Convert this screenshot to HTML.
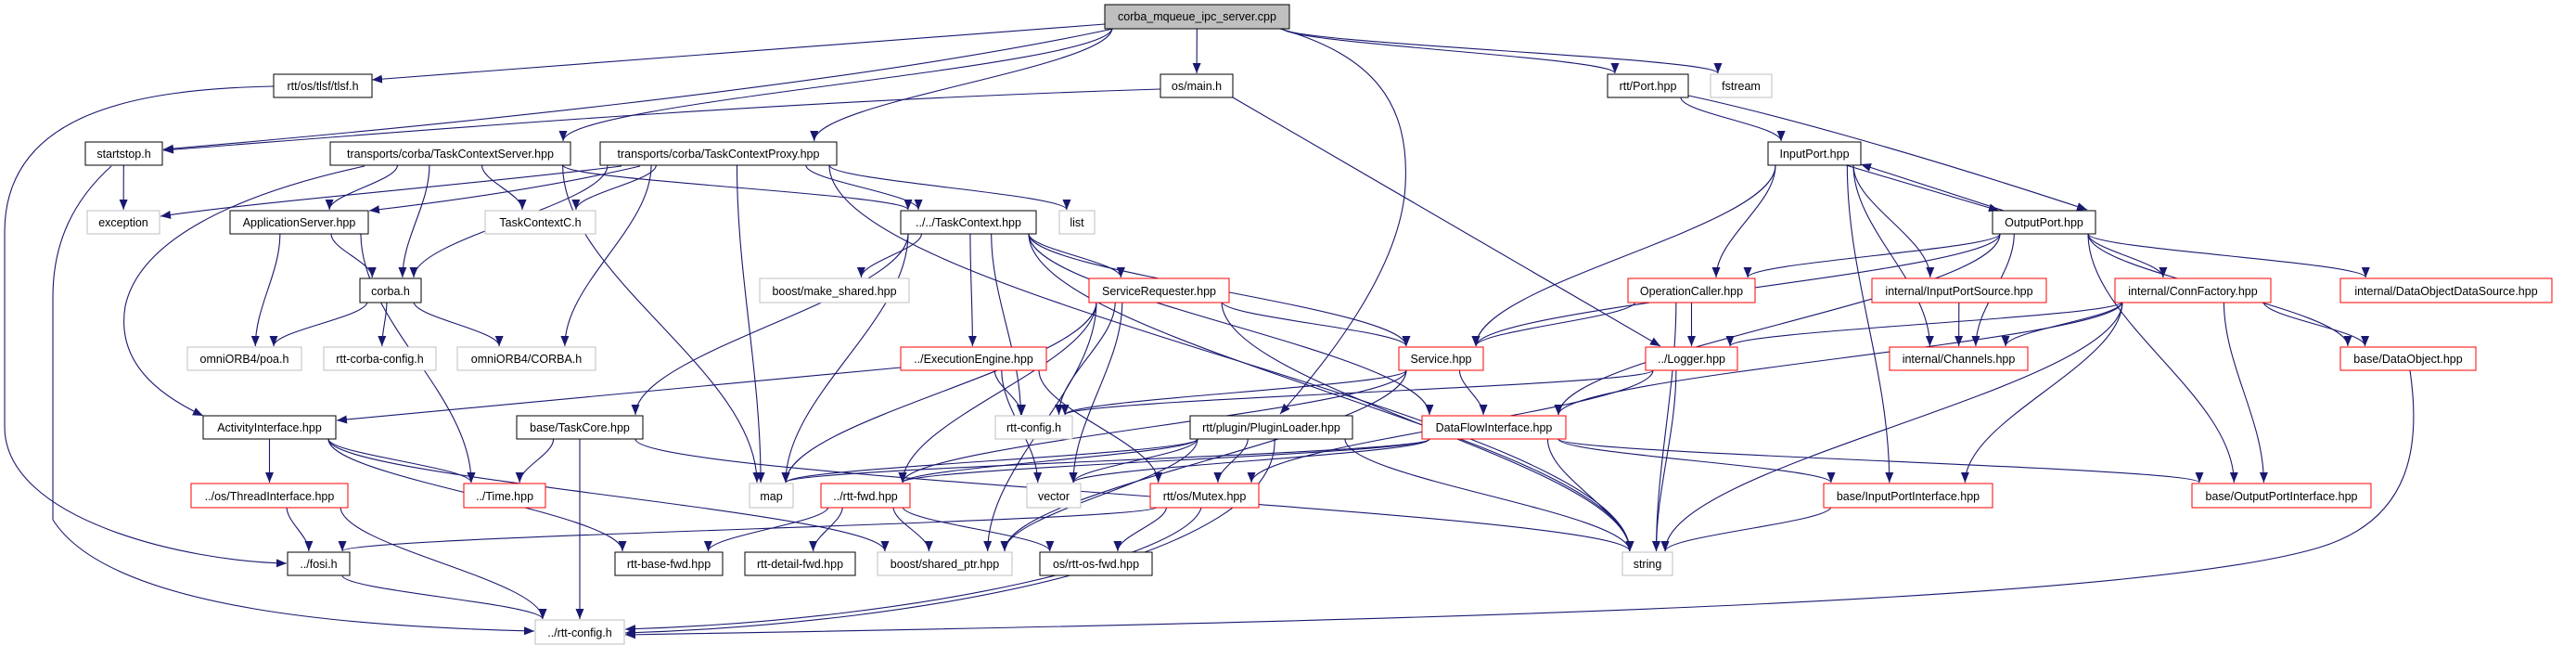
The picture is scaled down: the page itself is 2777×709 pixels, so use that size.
<!DOCTYPE html>
<html><head><meta charset="utf-8"><style>
html,body{margin:0;padding:0;background:#fff;}
svg{display:block;}
text{font-family:"Liberation Sans",Arial,sans-serif;font-size:12.5px;fill:#000;}
</style></head><body>
<svg id="g" width="2777" height="709" viewBox="0 0 2777 709" xmlns="http://www.w3.org/2000/svg">
<defs><marker id="a" markerUnits="userSpaceOnUse" markerWidth="12" markerHeight="10" refX="11" refY="4.5" orient="auto"><path d="M0,0 L11,4.5 L0,9 z" fill="#191970"/></marker></defs>
<g id="edges" fill="none" stroke="#191970" stroke-width="1.1"></g>
<g id="nodes">
<rect x="1191" y="5" width="199" height="26" fill="#bfbfbf" stroke="#000"/><text x="1290.5" y="22" text-anchor="middle">corba_mqueue_ipc_server.cpp</text>
<rect x="295" y="80" width="106" height="25" fill="#fff" stroke="#000"/><text x="348" y="97" text-anchor="middle">rtt/os/tlsf/tlsf.h</text>
<rect x="1251" y="80" width="78" height="25" fill="#fff" stroke="#000"/><text x="1290" y="97" text-anchor="middle">os/main.h</text>
<rect x="1733" y="80" width="87" height="25" fill="#fff" stroke="#000"/><text x="1776.5" y="97" text-anchor="middle">rtt/Port.hpp</text>
<rect x="1844" y="80" width="66" height="25" fill="#fff" stroke="#bfbfbf"/><text x="1877" y="97" text-anchor="middle">fstream</text>
<rect x="92" y="153" width="83" height="25" fill="#fff" stroke="#000"/><text x="133.5" y="170" text-anchor="middle">startstop.h</text>
<rect x="356" y="153" width="259" height="25" fill="#fff" stroke="#000"/><text x="485.5" y="170" text-anchor="middle">transports/corba/TaskContextServer.hpp</text>
<rect x="647" y="153" width="255" height="25" fill="#fff" stroke="#000"/><text x="774.5" y="170" text-anchor="middle">transports/corba/TaskContextProxy.hpp</text>
<rect x="1906" y="153" width="100" height="25" fill="#fff" stroke="#000"/><text x="1956" y="170" text-anchor="middle">InputPort.hpp</text>
<rect x="94" y="227" width="78" height="25" fill="#fff" stroke="#bfbfbf"/><text x="133" y="244" text-anchor="middle">exception</text>
<rect x="248" y="227" width="149" height="25" fill="#fff" stroke="#000"/><text x="322.5" y="244" text-anchor="middle">ApplicationServer.hpp</text>
<rect x="523" y="227" width="119" height="25" fill="#fff" stroke="#bfbfbf"/><text x="582.5" y="244" text-anchor="middle">TaskContextC.h</text>
<rect x="971" y="227" width="146" height="25" fill="#fff" stroke="#000"/><text x="1044" y="244" text-anchor="middle">../../TaskContext.hpp</text>
<rect x="1142" y="227" width="38" height="25" fill="#fff" stroke="#bfbfbf"/><text x="1161" y="244" text-anchor="middle">list</text>
<rect x="2148" y="227" width="111" height="25" fill="#fff" stroke="#000"/><text x="2203.5" y="244" text-anchor="middle">OutputPort.hpp</text>
<rect x="388" y="300" width="66" height="26" fill="#fff" stroke="#000"/><text x="421" y="318" text-anchor="middle">corba.h</text>
<rect x="819" y="300" width="161" height="26" fill="#fff" stroke="#bfbfbf"/><text x="899.5" y="318" text-anchor="middle">boost/make_shared.hpp</text>
<rect x="1174" y="300" width="151" height="26" fill="#fff" stroke="#f00"/><text x="1249.5" y="318" text-anchor="middle">ServiceRequester.hpp</text>
<rect x="1755" y="300" width="137" height="26" fill="#fff" stroke="#f00"/><text x="1823.5" y="318" text-anchor="middle">OperationCaller.hpp</text>
<rect x="2018" y="300" width="188" height="26" fill="#fff" stroke="#f00"/><text x="2112" y="318" text-anchor="middle">internal/InputPortSource.hpp</text>
<rect x="2280" y="300" width="168" height="26" fill="#fff" stroke="#f00"/><text x="2364" y="318" text-anchor="middle">internal/ConnFactory.hpp</text>
<rect x="2523" y="300" width="228" height="26" fill="#fff" stroke="#f00"/><text x="2637" y="318" text-anchor="middle">internal/DataObjectDataSource.hpp</text>
<rect x="202" y="374" width="123" height="25" fill="#fff" stroke="#bfbfbf"/><text x="263.5" y="391" text-anchor="middle">omniORB4/poa.h</text>
<rect x="349" y="374" width="121" height="25" fill="#fff" stroke="#bfbfbf"/><text x="409.5" y="391" text-anchor="middle">rtt-corba-config.h</text>
<rect x="493" y="374" width="149" height="25" fill="#fff" stroke="#bfbfbf"/><text x="567.5" y="391" text-anchor="middle">omniORB4/CORBA.h</text>
<rect x="971" y="374" width="157" height="25" fill="#fff" stroke="#f00"/><text x="1049.5" y="391" text-anchor="middle">../ExecutionEngine.hpp</text>
<rect x="1508" y="374" width="91" height="25" fill="#fff" stroke="#f00"/><text x="1553.5" y="391" text-anchor="middle">Service.hpp</text>
<rect x="1774" y="374" width="99" height="25" fill="#fff" stroke="#f00"/><text x="1823.5" y="391" text-anchor="middle">../Logger.hpp</text>
<rect x="2037" y="374" width="149" height="25" fill="#fff" stroke="#f00"/><text x="2111.5" y="391" text-anchor="middle">internal/Channels.hpp</text>
<rect x="2523" y="374" width="146" height="25" fill="#fff" stroke="#f00"/><text x="2596" y="391" text-anchor="middle">base/DataObject.hpp</text>
<rect x="219" y="448" width="143" height="25" fill="#fff" stroke="#000"/><text x="290.5" y="465" text-anchor="middle">ActivityInterface.hpp</text>
<rect x="557" y="448" width="136" height="25" fill="#fff" stroke="#000"/><text x="625" y="465" text-anchor="middle">base/TaskCore.hpp</text>
<rect x="1073" y="448" width="83" height="25" fill="#fff" stroke="#bfbfbf"/><text x="1114.5" y="465" text-anchor="middle">rtt-config.h</text>
<rect x="1283" y="448" width="175" height="25" fill="#fff" stroke="#000"/><text x="1370.5" y="465" text-anchor="middle">rtt/plugin/PluginLoader.hpp</text>
<rect x="1533" y="448" width="155" height="25" fill="#fff" stroke="#f00"/><text x="1610.5" y="465" text-anchor="middle">DataFlowInterface.hpp</text>
<rect x="206" y="521" width="169" height="26" fill="#fff" stroke="#f00"/><text x="290.5" y="539" text-anchor="middle">../os/ThreadInterface.hpp</text>
<rect x="500" y="521" width="88" height="26" fill="#fff" stroke="#f00"/><text x="544" y="539" text-anchor="middle">../Time.hpp</text>
<rect x="808" y="521" width="47" height="26" fill="#fff" stroke="#bfbfbf"/><text x="831.5" y="539" text-anchor="middle">map</text>
<rect x="885" y="521" width="96" height="26" fill="#fff" stroke="#f00"/><text x="933" y="539" text-anchor="middle">../rtt-fwd.hpp</text>
<rect x="1107" y="521" width="58" height="26" fill="#fff" stroke="#bfbfbf"/><text x="1136" y="539" text-anchor="middle">vector</text>
<rect x="1240" y="521" width="117" height="26" fill="#fff" stroke="#f00"/><text x="1298.5" y="539" text-anchor="middle">rtt/os/Mutex.hpp</text>
<rect x="1966" y="521" width="182" height="26" fill="#fff" stroke="#f00"/><text x="2057" y="539" text-anchor="middle">base/InputPortInterface.hpp</text>
<rect x="2363" y="521" width="193" height="26" fill="#fff" stroke="#f00"/><text x="2459.5" y="539" text-anchor="middle">base/OutputPortInterface.hpp</text>
<rect x="310" y="595" width="67" height="25" fill="#fff" stroke="#000"/><text x="343.5" y="612" text-anchor="middle">../fosi.h</text>
<rect x="663" y="595" width="116" height="25" fill="#fff" stroke="#000"/><text x="721" y="612" text-anchor="middle">rtt-base-fwd.hpp</text>
<rect x="803" y="595" width="119" height="25" fill="#fff" stroke="#000"/><text x="862.5" y="612" text-anchor="middle">rtt-detail-fwd.hpp</text>
<rect x="946" y="595" width="145" height="25" fill="#fff" stroke="#bfbfbf"/><text x="1018.5" y="612" text-anchor="middle">boost/shared_ptr.hpp</text>
<rect x="1121" y="595" width="121" height="25" fill="#fff" stroke="#000"/><text x="1181.5" y="612" text-anchor="middle">os/rtt-os-fwd.hpp</text>
<rect x="1749" y="595" width="54" height="25" fill="#fff" stroke="#bfbfbf"/><text x="1776" y="612" text-anchor="middle">string</text>
<rect x="577" y="668" width="96" height="26" fill="#fff" stroke="#bfbfbf"/><text x="625" y="686" text-anchor="middle">../rtt-config.h</text>
</g>
</svg>
<script>
var R=[5,80,153,227,300,374,448,521,595,668];
var N={root:[1191,1390,0],tlsf:[295,401,1],main:[1251,1329,1],port:[1733,1820,1],fstream:[1844,1910,1],
startstop:[92,175,2],tcs:[356,615,2],tcp:[647,902,2],inport:[1906,2006,2],
exception:[94,172,3],appsrv:[248,397,3],tcc:[523,642,3],tc:[971,1117,3],list:[1142,1180,3],outport:[2148,2259,3],
corba:[388,454,4],mkshared:[819,980,4],sreq:[1174,1325,4],opcaller:[1755,1892,4],ips:[2018,2206,4],cf:[2280,2448,4],odds:[2523,2751,4],
poa:[202,325,5],rcc:[349,470,5],corbah:[493,642,5],ee:[971,1128,5],service:[1508,1599,5],logger:[1774,1873,5],channels:[2037,2186,5],dobj:[2523,2669,5],
actif:[219,362,6],taskcore:[557,693,6],rttcfg:[1073,1156,6],plugin:[1283,1458,6],dfi:[1533,1688,6],
thread:[206,375,7],time:[500,588,7],map:[808,855,7],rttfwd:[885,981,7],vector:[1107,1165,7],mutex:[1240,1357,7],ipi:[1966,2148,7],opi:[2363,2556,7],
fosi:[310,377,8],basefwd:[663,779,8],detailfwd:[803,922,8],shptr:[946,1091,8],osfwd:[1121,1242,8],string:[1749,1803,8],rcfg:[577,673,9]};
var E=[["root","tcs"],["root","tcp"],["root","main"],["root","port"],["root","fstream"],
["tcs","appsrv"],["tcs","tcc"],["tcs","corba"],["tcs","tc"],["tcs","map"],
["tcp","tcc"],["tcp","corba"],["tcp","corbah"],["tcp","tc"],["tcp","list"],["tcp","map"],["tcp","string"],
["startstop","exception"],["appsrv","corba"],["appsrv","poa"],["appsrv","time"],
["corba","poa"],["corba","rcc"],["corba","corbah"],
["actif","thread"],["actif","time"],["actif","basefwd"],["actif","shptr"],
["thread","fosi"],["thread","rcfg"],["taskcore","time"],["taskcore","string"],["fosi","rcfg"],
["tc","mkshared"],["tc","map"],["tc","ee"],["tc","rttcfg"],["tc","sreq"],["tc","service"],["tc","dfi"],["tc","string"],["tc","taskcore"],
["sreq","service"],["sreq","rttcfg"],["sreq","vector"],["sreq","map"],["sreq","rttfwd"],["sreq","string"],["sreq","shptr"],
["ee","rttcfg"],["ee","vector"],["ee","mutex"],
["plugin","rttfwd"],["plugin","vector"],["plugin","mutex"],["plugin","shptr"],["plugin","string"],["plugin","map"],
["rttfwd","basefwd"],["rttfwd","detailfwd"],["rttfwd","shptr"],["rttfwd","osfwd"],
["mutex","osfwd"],["mutex","fosi"],
["service","dfi"],["service","rttcfg"],["service","shptr"],["service","rttfwd"],
["logger","rttcfg"],["logger","string"],["logger","mutex"],
["dfi","rttfwd"],["dfi","map"],["dfi","vector"],["dfi","string"],["dfi","ipi"],["dfi","opi"],
["port","inport"],
["inport","service"],["inport","opcaller"],["inport","ips"],["inport","channels"],["inport","ipi"],
["outport","service"],["outport","opcaller"],["outport","cf"],["outport","odds"],["outport","dobj"],["outport","channels"],["outport","opi"],["outport","dfi"],
["opcaller","service"],["opcaller","logger"],["opcaller","string"],
["ips","channels"],
["cf","logger"],["cf","channels"],["cf","dfi"],["cf","ipi"],["cf","opi"],["cf","dobj"],["cf","string"],
["ipi","string"]];
var C=[
"M1191,26 L401,86",
"M1200,31 C900,95 420,140 176,161",
"M1251,96 C800,110 400,145 176,162",
"M295,93 C150,96 5,120 5,250 L5,460 C5,560 200,605 309,607",
"M120,179 C80,215 57,260 57,320 L57,560 C120,660 400,676 576,680",
"M1380,31 C1480,60 1520,110 1515,200 C1510,290 1430,390 1380,446",
"M393,179 C250,210 150,260 135,330 C125,390 170,425 219,448",
"M971,396 L363,453",
"M625,473 L625,667",
"M1295,547 C1280,600 1000,668 674,678",
"M1374,473 C1380,600 1000,672 674,682",
"M2598,399 C2610,480 2600,560 2500,590 C2300,650 1500,670 674,684",
"M1329,105 L1790,373",
"M670,179 C500,200 300,215 173,233",
"M690,179 C600,200 500,215 398,227",
"M1820,103 C1900,120 2050,160 2250,226",
"M1990,178 L2155,227",
"M2160,227 L2006,177"
];
function nd(n){var a=N[n];return {x1:a[0],x2:a[1],cx:(a[0]+a[1])/2,t:R[a[2]],b:R[a[2]]+25,r:a[2]};}
function cl(v,a,b){return Math.max(a,Math.min(b,v));}
var g=document.getElementById("edges"),h="";
E.forEach(function(e){var s=nd(e[0]),t=nd(e[1]),d;
  var sx=cl(s.cx+(t.cx-s.cx)*0.35,s.x1+8,s.x2-8),tx=cl(t.cx+(s.cx-t.cx)*0.2,t.x1+8,t.x2-8);
  var sy=s.b,ty=t.t-1;
  d="M"+sx+","+sy+" C"+sx+","+(sy+(ty-sy)*0.35)+" "+tx+","+(ty-(ty-sy)*0.35)+" "+tx+","+ty;
 h+='<path d="'+d+'" marker-end="url(#a)"/>';});
C.forEach(function(d){h+='<path d="'+d+'" marker-end="url(#a)"/>';});
g.innerHTML=h;
</script>
</body></html>
